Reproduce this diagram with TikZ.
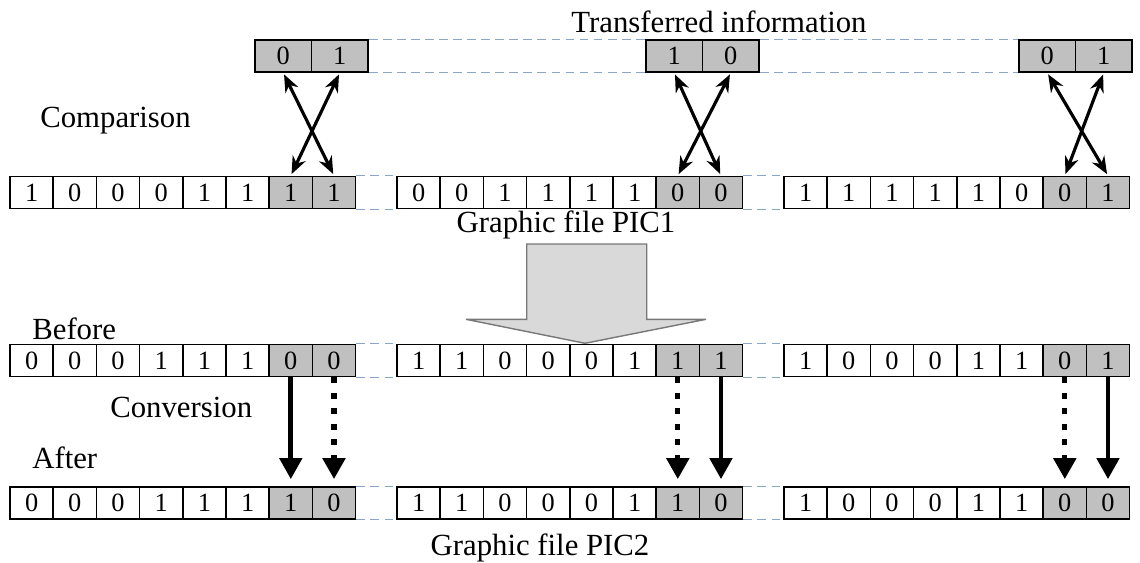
\documentclass[tikz,border=0pt]{standalone}
\usepackage{fontspec}
\setmainfont{Liberation Serif}
\usetikzlibrary{arrows.meta,positioning,calc}

\definecolor{bitgray}{RGB}{192,192,192}
\definecolor{guideblue}{RGB}{140,166,200}
\definecolor{bigfill}{RGB}{217,217,217}
\definecolor{bigline}{RGB}{120,120,120}

\tikzset{
  bit/.style={draw, line width=0.9pt, minimum width=0.864cm, minimum height=0.64cm,
              inner sep=0pt, font=\fontsize{15}{18}\selectfont},
  xbit/.style={bit, fill=bitgray, minimum width=1.13cm},
  txt/.style={font=\fontsize{17.5}{21}\selectfont, inner sep=0pt},
  gap line/.style={guideblue, line width=0.7pt, dash pattern=on 5pt off 3pt},
  cross arrow/.style={line width=1.8pt, {Stealth[length=10pt,width=8pt]}-{Stealth[length=10pt,width=8pt]},
              shorten >=1pt, shorten <=1pt},
  conv solid/.style={line width=2.8pt, -{Triangle[length=12pt,width=12.5pt]}, shorten >=4pt},
  conv dotted/.style={conv solid, line width=3pt, dash pattern=on 0.12cm off 0.19cm}
}

\begin{document}
\begin{tikzpicture}[x=0.02cm, y=-0.02cm]
  \useasboundingbox (0,0) rectangle (1140,562);

  % big block arrow from PIC1 down to the conversion part
  \draw[fill=bigfill, draw=bigline, line width=0.8pt]
    (526.7,244) -- (646.7,244) -- (646.7,319.3) -- (706,319.3) -- (585,343.3)
    -- (466,319.3) -- (526.7,319.3) -- cycle;

  % bit rows: PIC1, before and after, three groups of 8 bits each
  \foreach \row/\y/\g/\xs/\bits in {
      pic/192.5/1/10/{1,0,0,0,1,1,1,1}, pic/192.5/2/397/{0,0,1,1,1,1,0,0}, pic/192.5/3/784/{1,1,1,1,1,0,0,1},
      bef/360.5/1/10/{0,0,0,1,1,1,0,0}, bef/360.5/2/397/{1,1,0,0,0,1,1,1}, bef/360.5/3/784/{1,0,0,0,1,1,0,1},
      aft/503/1/10/{0,0,0,1,1,1,1,0},   aft/503/2/397/{1,1,0,0,0,1,1,0},   aft/503/3/784/{1,0,0,0,1,1,0,0}}
    \foreach \b [count=\i] in \bits {
      \ifnum\i>6 \def\bitfill{bitgray}\else\def\bitfill{white}\fi
      \node[bit, fill=\bitfill] (\row-\g-\i) at ({\xs+(\i-0.5)*43.2}, \y) {\b};
    }

  % transferred bits
  \foreach \g/\xs/\bits in {1/255/{0,1}, 2/646/{1,0}, 3/1019/{0,1}}
    \foreach \b [count=\i] in \bits
      \node[xbit] (tr-\g-\i) at ({\xs+(\i-0.5)*56.5}, 56) {\b};

  % dashed guides between the groups
  \foreach \g/\h in {1/2, 2/3} {
    \draw[gap line] (tr-\g-2.north east) -- (tr-\h-1.north west);
    \draw[gap line] (tr-\g-2.south east) -- (tr-\h-1.south west);
    \foreach \row in {pic, bef, aft} {
      \draw[gap line] (\row-\g-8.north east) -- (\row-\h-1.north west);
      \draw[gap line] (\row-\g-8.south east) -- (\row-\h-1.south west);
    }
  }

  % comparison
  \foreach \g in {1,2,3} {
    \draw[cross arrow] (tr-\g-1.south) -- (pic-\g-8.north);
    \draw[cross arrow] (tr-\g-2.south) -- (pic-\g-7.north);
  }

  % conversion
  \foreach \g/\sa/\sb in {1/conv solid/conv dotted, 2/conv dotted/conv solid, 3/conv dotted/conv solid} {
    \draw[\sa] (bef-\g-7.south) -- (aft-\g-7.north);
    \draw[\sb] (bef-\g-8.south) -- (aft-\g-8.north);
  }

  \node[txt, anchor=base] (trinfo) at (719, 32) {Transferred information};
  \node[txt, anchor=base west] (cmp) at (40, 127) {Comparison};
  \node[txt, anchor=base] (pic1) at (566, 232) {Graphic file PIC1};
  \node[txt, anchor=base west] (bef) at (32, 339) {Before};
  \node[txt, anchor=base west] (conv) at (110, 417) {Conversion};
  \node[txt, anchor=base west] (aft) at (32, 468) {After};
  \node[txt, anchor=base] (pic2) at (540, 555) {Graphic file PIC2};
\end{tikzpicture}
\end{document}
